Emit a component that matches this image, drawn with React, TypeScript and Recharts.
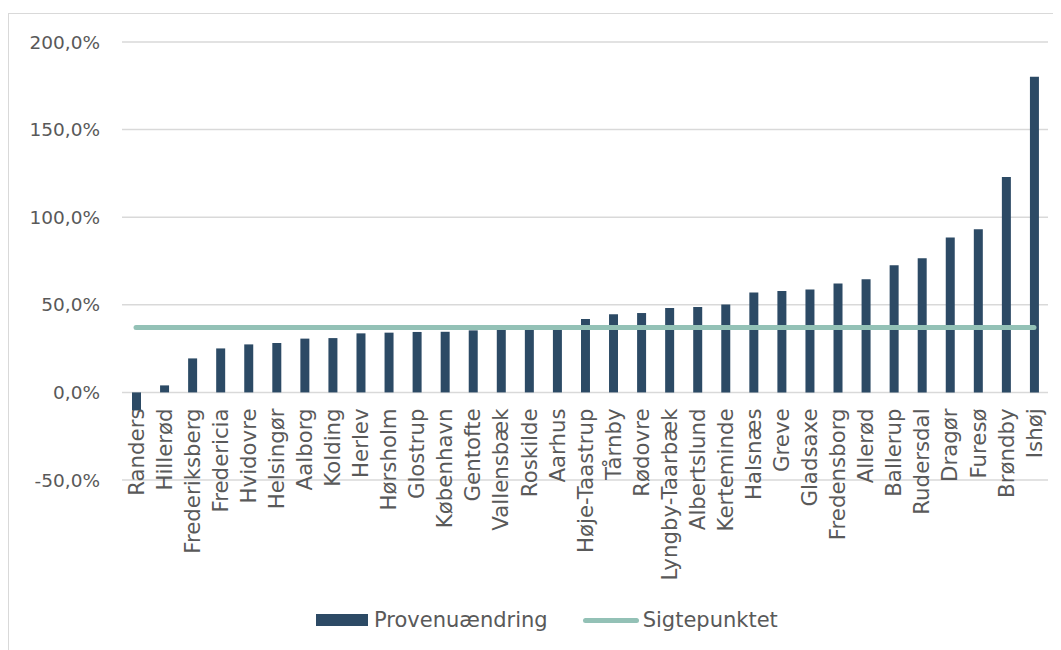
import React from "react";
import {
  ComposedChart,
  Bar,
  Line,
  XAxis,
  YAxis,
  CartesianGrid,
  Legend,
} from "recharts";

// Municipalities, sorted by revenue change
const municipalities: string[] = [
  "Randers", "Hillerød", "Frederiksberg", "Fredericia", "Hvidovre", "Helsingør",
  "Aalborg", "Kolding", "Herlev", "Hørsholm", "Glostrup", "København",
  "Gentofte", "Vallensbæk", "Roskilde", "Aarhus", "Høje-Taastrup", "Tårnby",
  "Rødovre", "Lyngby-Taarbæk", "Albertslund", "Kerteminde", "Halsnæs", "Greve",
  "Gladsaxe", "Fredensborg", "Allerød", "Ballerup", "Rudersdal", "Dragør",
  "Furesø", "Brøndby", "Ishøj",
];

// Provenuændring (%)
const provenuaendring: number[] = [
  -10.3, 4.0, 19.4, 25.1, 27.4, 28.2,
  30.7, 31.0, 33.7, 34.1, 34.5, 34.6,
  35.4, 35.8, 36.2, 36.6, 41.9, 44.6,
  45.3, 48.2, 48.8, 50.1, 57.0, 57.9,
  58.7, 62.1, 64.6, 72.6, 76.6, 88.4,
  93.1, 123.0, 180.2,
];

// Sigtepunktet (%), the same target for every municipality
const sigtepunktet = 37.0;

const yTicks: number[] = [-50, 0, 50, 100, 150, 200];
const Y_MIN = -50;
const Y_MAX = 200;

const BAR_NAME = "Provenuændring";
const LINE_NAME = "Sigtepunktet";
const BAR_COLOR = "#2c4a65";
const LINE_COLOR = "#93c1b6";
const TEXT_COLOR = "#595959";
const GRID_COLOR = "#d9d9d9";
const FONT = "'DejaVu Sans', sans-serif";

const data = municipalities.map((name, i) => ({
  name,
  provenu: provenuaendring[i],
  sigte: sigtepunktet,
}));

const CHART_W = 1053;
const CHART_H = 642;
const MARGIN = { top: 34, right: 13, bottom: 140, left: 0 };
const X_AXIS_H = 30;
const PLOT_H = CHART_H - MARGIN.top - MARGIN.bottom - X_AXIS_H;
// distance from the bottom of the plot up to the zero line
const ZERO_FROM_BOTTOM = (PLOT_H * (0 - Y_MIN)) / (Y_MAX - Y_MIN);

const fmtPct = (v: number) => `${v.toFixed(1).replace(".", ",")}%`;

// Category labels sit just under the zero line, rotated upwards
const CategoryTick = (props: any) => {
  const { x, y, payload } = props;
  const top = y - ZERO_FROM_BOTTOM + 16;
  return (
    <text
      x={x}
      y={top}
      transform={`rotate(-90, ${x}, ${top})`}
      textAnchor="end"
      dy="0.36em"
      fill={TEXT_COLOR}
      fontSize={21.3}
      fontFamily={FONT}
    >
      {payload.value}
    </text>
  );
};

const LegendContent = () => (
  <div
    style={{
      display: "flex",
      alignItems: "center",
      fontFamily: FONT,
      fontSize: 21,
      color: TEXT_COLOR,
    }}
  >
    <div style={{ width: 52, height: 12, background: BAR_COLOR, marginRight: 6 }} />
    <span>{BAR_NAME}</span>
    <div
      style={{
        width: 56,
        height: 5,
        borderRadius: 3,
        background: LINE_COLOR,
        marginLeft: 35,
        marginRight: 4,
      }}
    />
    <span>{LINE_NAME}</span>
  </div>
);

export default function App() {
  return (
    <div style={{ position: "relative", width: CHART_W, height: CHART_H }}>
      <div
        style={{
          position: "absolute",
          left: 0,
          top: 5,
          width: CHART_W + 20,
          height: CHART_H + 20,
          borderLeft: `1.5px solid ${GRID_COLOR}`,
          borderTop: `1.5px solid ${GRID_COLOR}`,
        }}
      />
      <ComposedChart width={CHART_W} height={CHART_H} data={data} margin={MARGIN}>
        <CartesianGrid vertical={false} stroke={GRID_COLOR} strokeWidth={1.5} />
        <XAxis
          dataKey="name"
          interval={0}
          height={X_AXIS_H}
          axisLine={false}
          tickLine={false}
          tickSize={0}
          tickMargin={0}
          tick={<CategoryTick />}
        />
        <YAxis
          domain={[Y_MIN, Y_MAX]}
          ticks={yTicks}
          width={114}
          axisLine={false}
          tickLine={false}
          tickSize={0}
          tickMargin={22}
          tickFormatter={fmtPct}
          tick={{ fill: TEXT_COLOR, fontSize: 18.5, fontFamily: FONT }}
        />
        <Bar
          dataKey="provenu"
          name={BAR_NAME}
          fill={BAR_COLOR}
          barSize={9}
          isAnimationActive={false}
        />
        <Line
          dataKey="sigte"
          name={LINE_NAME}
          stroke={LINE_COLOR}
          strokeWidth={5}
          strokeLinecap="round"
          dot={false}
          activeDot={false}
          isAnimationActive={false}
        />
        <Legend
          layout="horizontal"
          verticalAlign="middle"
          align="center"
          content={<LegendContent />}
          wrapperStyle={{ position: "absolute", left: 308, top: 600, width: "auto" }}
        />
      </ComposedChart>
    </div>
  );
}
